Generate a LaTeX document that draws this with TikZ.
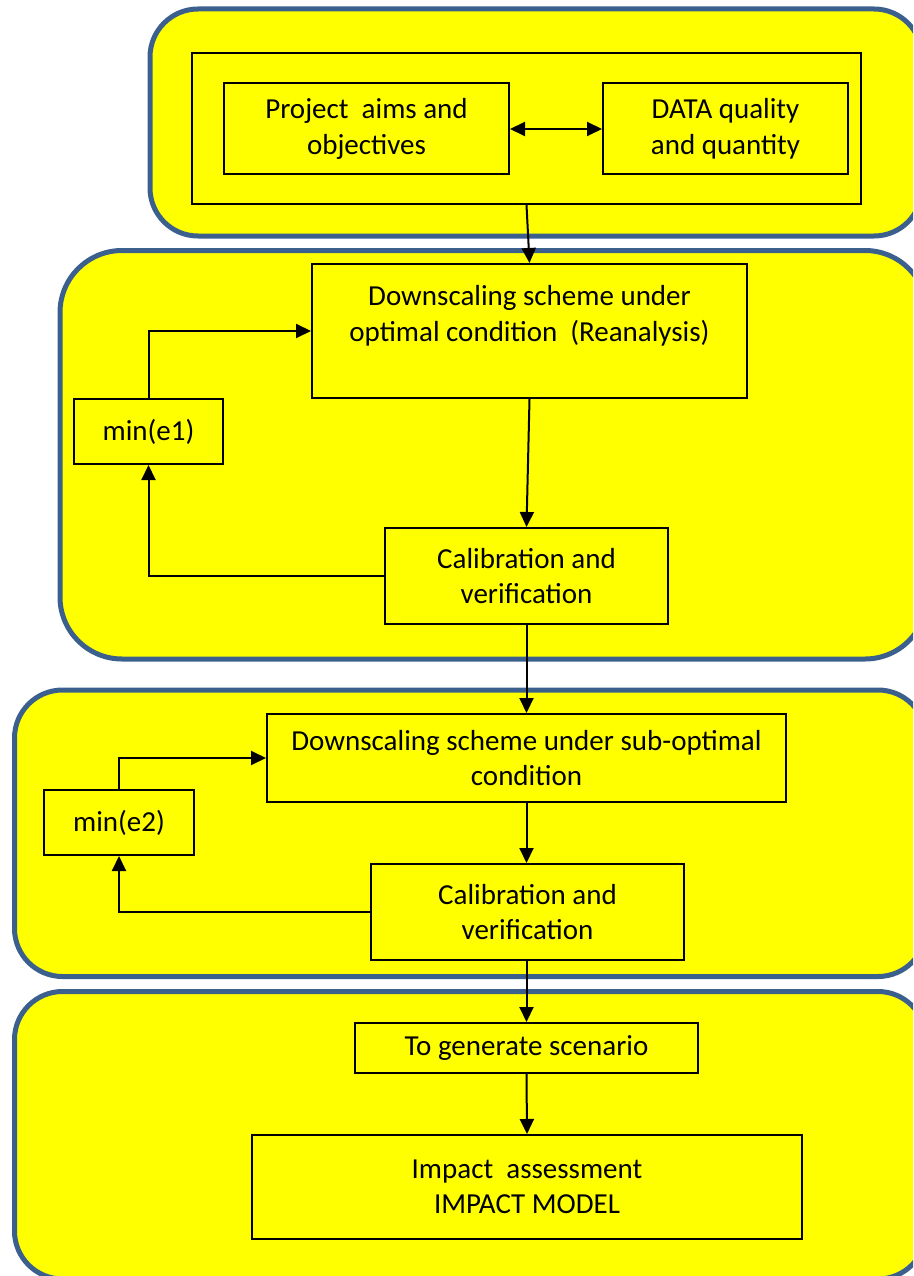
\documentclass[tikz,border=0pt]{standalone}
\usepackage{fontspec}
\setmainfont{Carlito}
\usetikzlibrary{arrows.meta}
\definecolor{panelblue}{RGB}{60,96,142}
\definecolor{stageyellow}{RGB}{255,255,0}
\begin{document}
\begin{tikzpicture}[x=1pt,y=-1pt,
  font=\fontsize{29}{35.5}\selectfont,
  panel/.style={draw=panelblue,line width=5pt,fill=stageyellow},
  stepbox/.style={draw=black,line width=2pt,fill=stageyellow,align=center,inner sep=0pt},
  flow/.style={line width=2pt,-{Triangle[length=15pt,width=14pt]}},
  twoway/.style={line width=2pt,{Triangle[length=15pt,width=14pt]}-{Triangle[length=15pt,width=14pt]}},
  feedback/.style={line width=2pt,-{Triangle[length=15pt,width=14pt]}}]
\useasboundingbox (0,0) rectangle (913,1276);
\clip (0,0) rectangle (913,1276);

% stage panels
\draw[panel,rounded corners=48pt] (150,9) rectangle (922,236);
\draw[panel,rounded corners=62pt] (60,250.5) rectangle (927,659);
\draw[panel,rounded corners=48pt] (14.5,690) rectangle (926,976.5);
\draw[panel,rounded corners=48pt] (14.5,991.5) rectangle (926,1279);

% stage 1: inputs
\node[stepbox,minimum width=669pt,minimum height=151pt] (inputs) at (526.5,128.5) {};
\node[stepbox,minimum width=285pt,minimum height=91pt] (aims) at (366.5,129)
  {Project\ \ aims and\\objectives};
\node[stepbox,minimum width=245pt,minimum height=91pt] (data) at (725.5,129)
  {DATA quality\\and quantity};

% stage 2: optimal condition
\node[stepbox,minimum width=435pt,minimum height=134pt,
  label={[align=center,yshift=15pt]center:Downscaling scheme under\\optimal condition\ \ (Reanalysis)}]
  (ds1) at (529.5,331) {};
\node[stepbox,minimum width=149pt,minimum height=65pt] (min1) at (148.5,431.5) {min(e1)};
\node[stepbox,minimum width=283pt,minimum height=96pt] (cal1) at (526.5,576)
  {Calibration and\\verification};

% stage 3: sub-optimal condition
\node[stepbox,minimum width=519pt,minimum height=88pt] (ds2) at (526.5,758)
  {Downscaling scheme under sub-optimal\\condition};
\node[stepbox,minimum width=150pt,minimum height=65pt] (min2) at (119,822.5) {min(e2)};
\node[stepbox,minimum width=313pt,minimum height=96pt] (cal2) at (527.5,912)
  {Calibration and\\verification};

% stage 4: scenarios and impacts
\node[stepbox,minimum width=343pt,minimum height=50pt] (gen) at (526.5,1048)
  {To generate scenario};
\node[stepbox,minimum width=550pt,minimum height=104pt] (imp) at (527,1187)
  {Impact\ \ assessment\\IMPACT MODEL};

% connectors
\draw[twoway] (aims) -- (data);
\draw[flow] (inputs.south) -- (ds1.north);
\draw[flow] (ds1.south) -- (cal1.north);
\draw[feedback] (cal1.west) -| (min1.south);
\draw[feedback] (min1.north) |- (ds1.west);
\draw[flow] (cal1.south) -- (ds2.north);
\draw[flow] (ds2.south) -- (ds2.south |- cal2.north);
\draw[feedback] (cal2.west) -| (min2.south);
\draw[feedback] (min2.north) |- (ds2.west);
\draw[flow] (cal2.south -| gen.north) -- (gen.north);
\draw[flow] (gen.south) -- (imp.south |- imp.north);
\end{tikzpicture}
\end{document}
